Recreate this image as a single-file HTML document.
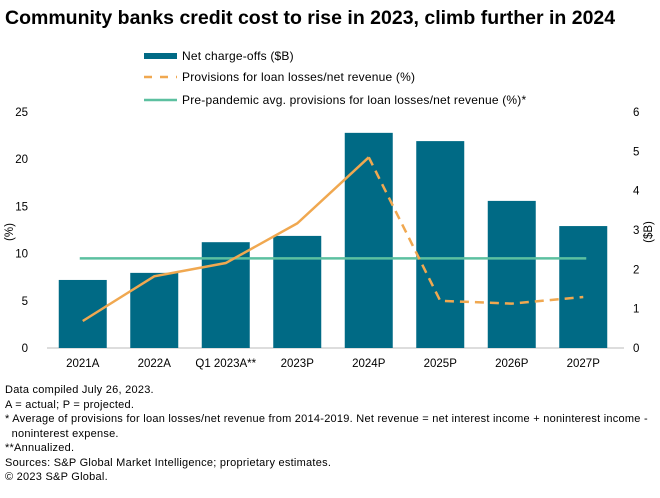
<!DOCTYPE html>
<html><head><meta charset="utf-8"><style>
body{margin:0;background:#fff;font-family:"Liberation Sans",sans-serif;color:#000}
#wrap{position:relative;width:660px;height:498px;overflow:hidden}
.t{position:absolute;left:5px;top:7px;font-size:19.5px;font-weight:bold;white-space:nowrap}
.n{position:absolute;left:5px;font-size:11px;letter-spacing:0.25px;line-height:14.5px;white-space:nowrap}
</style></head><body><div id="wrap">
<div class="t">Community banks credit cost to rise in 2023, climb further in 2024</div>
<svg id="c" width="660" height="380" style="position:absolute;left:0;top:0"></svg>
<div class="n" style="top:383px">Data compiled July 26, 2023.<br>A = actual; P = projected.<br>* Average of provisions for loan losses/net revenue from 2014-2019. Net revenue = net interest income + noninterest income -<br>&nbsp;&nbsp;noninterest expense.<br>**Annualized.<br>Sources: S&amp;P Global Market Intelligence; proprietary estimates.<br>© 2023 S&amp;P Global.</div>
</div>
<script>
const categories=["2021A","2022A","Q1 2023A**","2023P","2024P","2025P","2026P","2027P"];
const chargeOffs=[1.73,1.91,2.69,2.85,5.47,5.26,3.74,3.10];
const provisions=[2.86,7.6,9.0,13.2,20.2,5.0,4.7,5.4];
const prePandemic=9.5;
const leftTicks=[0,5,10,15,20,25];
const rightTicks=[0,1,2,3,4,5,6];
const NS="http://www.w3.org/2000/svg",svg=document.getElementById('c');
const X0=47,X1=619,Y0=348,Y1=112;
const yL=v=>Y0-(v/25)*(Y0-Y1), yR=v=>Y0-(v/6)*(Y0-Y1);
const step=(X1-X0)/categories.length, xc=i=>X0+step*(i+0.5);
function mk(t,a,p){const e=document.createElementNS(NS,t);for(const k in a)e.setAttribute(k,a[k]);(p||svg).appendChild(e);return e;}
let e=mk('line',{x1:X0,y1:Y0,x2:624,y2:Y0,stroke:'#bbb'});


leftTicks.forEach(v=>{let t=mk('text',{x:28,y:yL(v)+4,'text-anchor':'end','font-size':11.5});t.textContent=v;

});
rightTicks.forEach(v=>{let t=mk('text',{x:633,y:yR(v)+4,'font-size':11.5});t.textContent=v;

});
let yt=mk('text',{x:0,y:0,'font-size':11.5,transform:'translate(13,232) rotate(-90)','text-anchor':'middle'});yt.textContent='(%)';


let yt2=mk('text',{x:0,y:0,'font-size':11.5,transform:'translate(652,232) rotate(-90)','text-anchor':'middle'});yt2.textContent='($B)';


chargeOffs.forEach((v,i)=>{let b=mk('rect',{x:xc(i)-24,y:yR(v),width:48,height:Y0-yR(v),fill:'#006a85'});


let t=mk('text',{x:xc(i),y:367,'text-anchor':'middle','font-size':11.5});t.textContent=categories[i];

});
let pp=mk('line',{x1:xc(0)-3,x2:xc(7)+3,y1:yL(prePandemic),y2:yL(prePandemic),stroke:'#5cc0a0','stroke-width':2.5});


const pts=provisions.map((v,i)=>[xc(i),yL(v)]);
let s=mk('polyline',{points:pts.slice(0,5).join(' '),fill:'none',stroke:'#f0a850','stroke-width':2.5});


let d=mk('polyline',{points:pts.slice(4).join(' '),fill:'none',stroke:'#f0a850','stroke-width':2.5,'stroke-dasharray':'9,6'});


const leg=[['Net charge-offs ($B)','bar',56],['Provisions for loan losses/net revenue (%)','dash',77],['Pre-pandemic avg. provisions for loan losses/net revenue (%)*','line',100]];
leg.forEach(l=>{let g=mk('g',{});


if(l[1]=='bar')mk('rect',{x:144,y:l[2]-3,width:33,height:6,fill:'#006a85'},g);
else if(l[1]=='dash')mk('line',{x1:144,x2:177,y1:l[2],y2:l[2],stroke:'#f0a850','stroke-width':2.5,'stroke-dasharray':'8,8'},g);
else mk('line',{x1:144,x2:177,y1:l[2],y2:l[2],stroke:'#5cc0a0','stroke-width':2.5},g);
let t=mk('text',{x:182,y:l[2]+4,'font-size':12,'letter-spacing':0.2},g);t.textContent=l[0];});
</script></body></html>
